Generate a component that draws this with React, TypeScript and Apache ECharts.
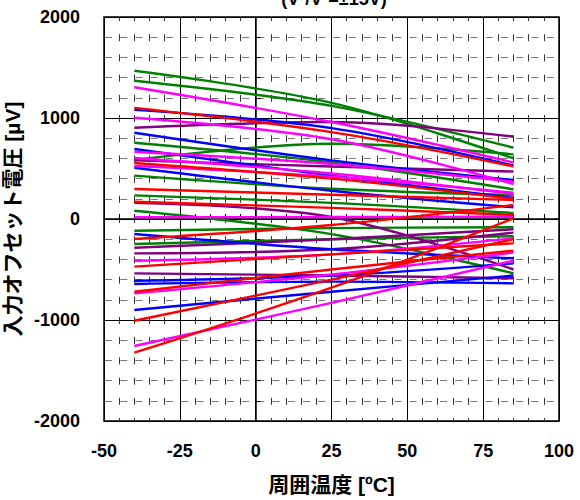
import React, { useEffect, useRef } from "react";
import * as echarts from "echarts";

const temps = [-40, 25, 85];
const xTicks = [-50, -25, 0, 25, 50, 75, 100];
const yTicks = [-2000, -1000, 0, 1000, 2000];

const greenLines = [
  [1468, 1150, 600],
  [1369, 1120, 706],
  [755, 560, 294],
  [584, 745, 640],
  [429, 300, 238],
  [234, 160, 60],
  [82, -150, -538],
  [-116, -90, -82],
  [-248, -200, -170],
];
const magentaLines = [
  [1304, 960, 560],
  [1003, 790, 346],
  [666, 545, 370],
  [604, 450, 248],
  [525, 420, 260],
  [17, 20, 23],
  [-413, -350, -191],
  [-736, -550, -333],
  [-1257, -830, -413],
];
const redLines = [
  [1100, 860, 520],
  [554, 400, 198],
  [297, 240, 188],
  [171, 110, 40],
  [-198, -60, 139],
  [-472, -350, -241],
  [-720, -500, -313],
  [-1007, -600, -200],
  [-1323, -680, 7],
];
const blueLines = [
  [1080, 900, 530],
  [854, 580, 386],
  [693, 430, 208],
  [508, 280, 116],
  [-149, -300, -389],
  [-611, -560, -439],
  [-644, -620, -637],
  [-901, -720, -560],
];
const purpleLines = [
  [904, 960, 815],
  [580, 520, 470],
  [161, 20, -500],
  [-284, -200, -102],
  [-340, -300, -135],
  [-538, -560, -587],
];

const groups: [string, number[][]][] = [
  ["#008000", greenLines],
  ["#800080", purpleLines],
  ["#0000ff", blueLines],
  ["#ff00ff", magentaLines],
  ["#ff0000", redLines],
];

const FONT = "'Liberation Sans', Arial, 'Noto Sans CJK JP', sans-serif";

export default function App() {
  const ref = useRef<HTMLDivElement>(null);
  useEffect(() => {
    if (!ref.current) return;
    const chart = echarts.init(ref.current, undefined, { renderer: "svg" });
    const series: any[] = [];
    groups.forEach(([color, lines]) => {
      lines.forEach((vals) => {
        series.push({
          type: "line",
          data: temps.map((t, i) => [t, vals[i]]),
          showSymbol: false,
          symbol: "none",
          smooth: 0.35,
          lineStyle: { color, width: 2.4 },
          itemStyle: { color },
          silent: true,
        });
      });
    });
    const axisCommon = {
      type: "value",
      axisLine: { show: true, lineStyle: { color: "#000", width: 1.5 } },
      axisTick: { show: true, inside: true, length: 6, lineStyle: { color: "#000" } },
      minorTick: { show: true, splitNumber: 5, length: 5, lineStyle: { color: "#000" } },
      splitLine: { show: true, lineStyle: { color: "#000", width: 1 } },
      axisLabel: {
        color: "#000",
        fontWeight: "bold",
        fontSize: 18,
        fontFamily: FONT,
        formatter: (v: number) => String(v),
      },
      nameLocation: "middle",
      nameTextStyle: {
        color: "#000",
        fontWeight: "bold",
        fontSize: 21,
        fontFamily: FONT,
      },
    };
    chart.setOption({
      animation: false,
      backgroundColor: "#fff",
      grid: {
        left: 104,
        right: 21,
        top: 17,
        bottom: 79,
        show: true,
        borderColor: "#000",
        borderWidth: 1.5,
        backgroundColor: "#fff",
        containLabel: false,
        outerBoundsMode: "none",
      },
      xAxis: {
        ...axisCommon,
        min: xTicks[0],
        max: xTicks[xTicks.length - 1],
        interval: 25,
        name: "周囲温度 [ºC]",
        nameGap: 53,
        axisLabel: { ...axisCommon.axisLabel, margin: 21 },
        minorSplitLine: {
          show: true,
          lineStyle: { color: "#333", width: 1, type: [7, 13.2], dashOffset: 3 },
        },
      },
      yAxis: {
        ...axisCommon,
        min: yTicks[0],
        max: yTicks[yTicks.length - 1],
        interval: 1000,
        name: "入力オフセット電圧 [µV]",
        nameRotate: 90,
        nameGap: 75,
        axisLabel: { ...axisCommon.axisLabel, margin: 24 },
        minorSplitLine: {
          show: true,
          lineStyle: { color: "#777", width: 1, type: [7, 8.23], dashOffset: -1 },
        },
      },
      graphic: [
        {
          type: "text",
          x: 334,
          y: 8,
          style: {
            text: "(V⁺/V⁻=±15V)",
            fill: "#000",
            font: "bold 18px " + FONT,
            textAlign: "center",
            textVerticalAlign: "bottom",
          },
        },
      ],
      series,
    });
    return () => chart.dispose();
  }, []);
  return (
    <div
      ref={ref}
      style={{ position: "fixed", left: 0, top: 0, width: 580, height: 500 }}
    />
  );
}
